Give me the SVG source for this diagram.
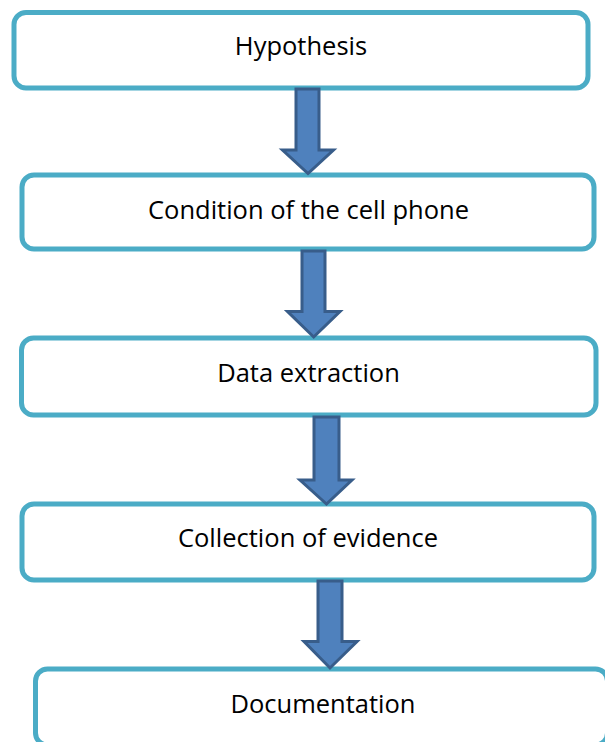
<svg xmlns="http://www.w3.org/2000/svg" width="605" height="742" viewBox="0 0 605 742">
<style>
.box{fill:#ffffff;stroke:#4bacc6;stroke-width:5}
.lbl{font-family:"Open Sans","Liberation Sans",sans-serif;font-size:25.5px;fill:#000000;text-anchor:middle}
.arr{fill:#4f81bd;stroke:#385d8a;stroke-width:3;stroke-linejoin:miter}
</style>
<rect width="605" height="742" fill="#ffffff"/>
<g id="n1"><rect class="box" x="14" y="12.5" width="574" height="75.5" rx="12"/><text class="lbl" x="301" y="55">Hypothesis</text></g>
<g id="n2"><rect class="box" x="22" y="175" width="572" height="74" rx="12"/><text class="lbl" x="308.5" y="219">Condition of the cell phone</text></g>
<g id="n3"><rect class="box" x="21.5" y="338" width="574.5" height="77" rx="12"/><text class="lbl" x="308.5" y="382">Data extraction</text></g>
<g id="n4"><rect class="box" x="22" y="504" width="572" height="76" rx="12"/><text class="lbl" x="308" y="546.5">Collection of evidence</text></g>
<g id="n5"><rect class="box" x="35.5" y="669" width="572" height="76" rx="12"/><text class="lbl" x="323" y="712.5">Documentation</text></g>
<g id="connectors">
<polygon class="arr" points="296,89 319,89 319,150 333.5,150 308,173.5 282.5,150 296,150"/>
<polygon class="arr" points="302,251 325,251 325,311.5 340,311.5 313.7,337 287.5,311.5 302,311.5"/>
<polygon class="arr" points="314,417 339,417 339,480 352,480 326.5,504 300,480 314,480"/>
<polygon class="arr" points="318,581 342,581 342,641.5 357,641.5 330,668 304,641.5 318,641.5"/>
</g>
</svg>
